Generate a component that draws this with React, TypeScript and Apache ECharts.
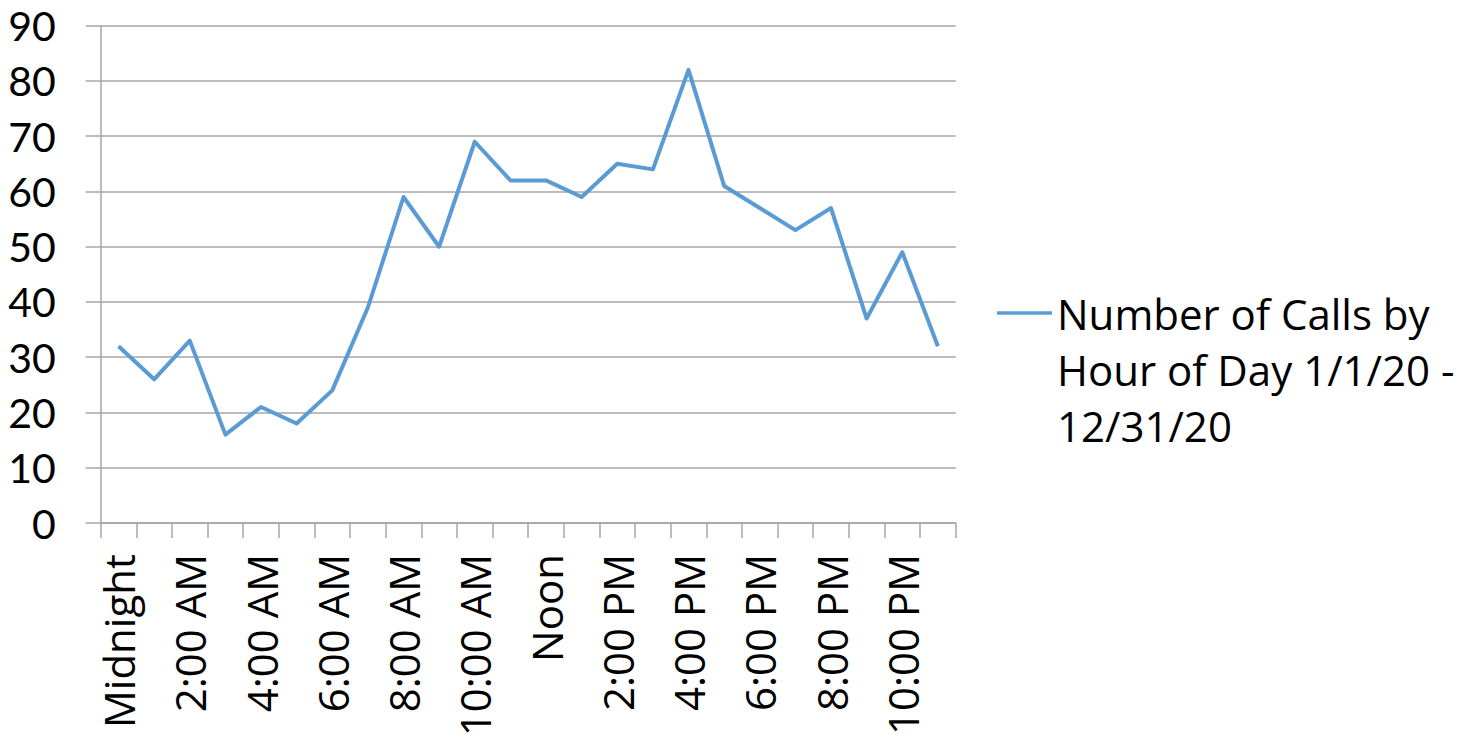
import React, { useEffect, useRef } from "react";
import * as echarts from "echarts";

const hours = [
  "Midnight", "1:00 AM", "2:00 AM", "3:00 AM", "4:00 AM", "5:00 AM",
  "6:00 AM", "7:00 AM", "8:00 AM", "9:00 AM", "10:00 AM", "11:00 AM",
  "Noon", "1:00 PM", "2:00 PM", "3:00 PM", "4:00 PM", "5:00 PM",
  "6:00 PM", "7:00 PM", "8:00 PM", "9:00 PM", "10:00 PM", "11:00 PM",
];
const calls = [32, 26, 33, 16, 21, 18, 24, 39, 59, 50, 69, 62, 62, 59, 65, 64, 82, 61, 57, 53, 57, 37, 49, 32];
const yMin = 0;
const yMax = 90;
const yStep = 10;
const seriesName = "Number of Calls by Hour of Day 1/1/20 - 12/31/20";
const legendLines = ["Number of Calls by", "Hour of Day 1/1/20 -", "12/31/20"];

const FONT = "Open Sans";
const Y_FONT = "Lato";
const GRAY = "#a6a6a6";
const BLUE = "#5b9bd5";
const FS = 42;

export default function App() {
  const ref = useRef<HTMLDivElement>(null);
  useEffect(() => {
    document.body.style.margin = "0";
    document.body.style.overflow = "hidden";
    const chart = echarts.init(ref.current!, null, { renderer: "svg" });
    chart.setOption({
      animation: false,
      backgroundColor: "#ffffff",
      textStyle: { fontFamily: FONT },
      grid: {
        left: 100.7,
        right: 1477 - 955.7,
        top: 25.7,
        bottom: 738 - 523,
        containLabel: false,
        outerBoundsMode: "none",
      },
      legend: {
        show: true,
        left: 997,
        top: 173,
        padding: 0,
        icon: "rect",
        itemWidth: 55,
        itemHeight: 3.5,
        itemStyle: { color: BLUE },
        // two leading empty lines keep the legend line beside the first text line
        formatter: () => "\n\n" + legendLines.join("\n"),
        textStyle: {
          fontFamily: FONT,
          fontSize: FS,
          lineHeight: 56,
          color: "#000",
        },
      },
      xAxis: {
        type: "category",
        data: hours,
        boundaryGap: true,
        axisLine: { show: true, lineStyle: { color: GRAY, width: 1.5 } },
        axisTick: { show: true, interval: 0, length: 15, lineStyle: { color: GRAY, width: 1.5 } },
        axisLabel: {
          interval: 1,
          rotate: 90,
          margin: 31,
          fontFamily: FONT,
          fontSize: FS,
          color: "#000",
        },
        splitLine: { show: false },
      },
      yAxis: {
        type: "value",
        min: yMin,
        max: yMax,
        interval: yStep,
        axisLine: { show: true, lineStyle: { color: GRAY, width: 1.5 } },
        axisTick: { show: true, length: 15, lineStyle: { color: GRAY, width: 1.5 } },
        axisLabel: {
          margin: 45,
          fontFamily: Y_FONT,
          fontSize: 41,
          lineHeight: 42,
          color: "#000",
        },
        splitLine: { show: true, lineStyle: { color: GRAY, width: 1.5 } },
      },
      series: [
        {
          name: seriesName,
          type: "line",
          data: calls,
          symbol: "none",
          showSymbol: false,
          lineStyle: { color: BLUE, width: 4, join: "round" },
          itemStyle: { color: BLUE },
        },
      ],
    });
    return () => chart.dispose();
  }, []);
  return <div ref={ref} style={{ width: 1477, height: 738 }} />;
}
